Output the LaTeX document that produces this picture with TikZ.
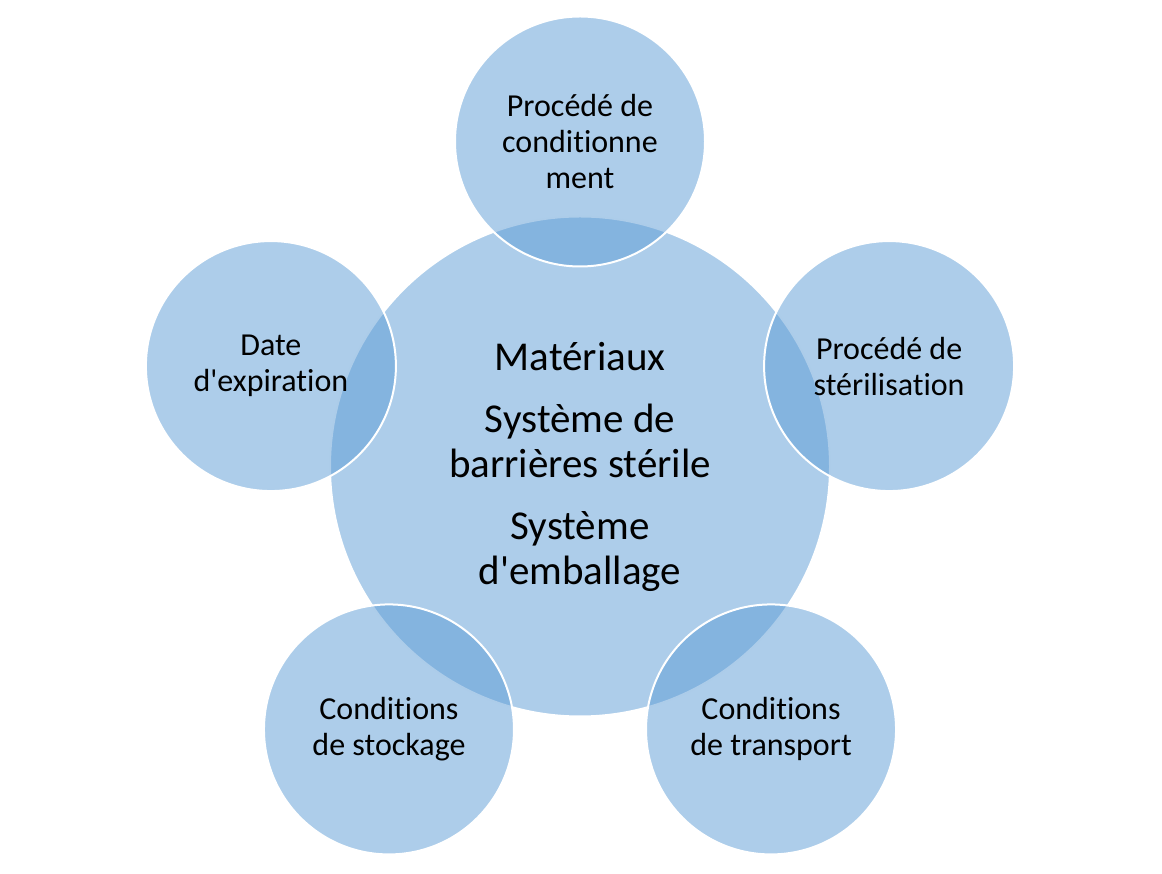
\documentclass[tikz,border=0pt]{standalone}
\usepackage{fontspec}
\setmainfont{Carlito}[Ligatures={NoCommon,TeXOff}]
\usetikzlibrary{positioning,calc}
\definecolor{bubble}{HTML}{5B9BD5}
\tikzset{
  hubnode/.style = {circle, draw=white, line width=2pt, fill=bubble, fill opacity=0.5,
                    text opacity=1, minimum size=500pt, inner sep=0pt, align=center,
                    font=\fontsize{41}{45}\selectfont},
  satnode/.style = {circle, draw=white, line width=2pt, fill=bubble, fill opacity=0.5,
                    text opacity=1, minimum size=250pt, inner sep=0pt, align=center,
                    font=\fontsize{32}{36}\selectfont}
}

\begin{document}
\begin{tikzpicture}[x=1pt, y=1pt]
  \useasboundingbox (0,0) rectangle (1162,873);

  %  --  Central circle
  \node[hubnode] (hub) at (580,406.5) {Matériaux\\[17pt]Système de\\barrières stérile\\[17pt]Système\\d'emballage};

  %  --  Five satellites around the hub
  \foreach \ang/\nm/\txt in {90/cond/{Procédé de\\conditionne\\ment},
                             18/steri/{Procédé de\\stérilisation},
                             162/expi/{Date\\d'expiration},
                             234/stock/{Conditions\\de stockage},
                             306/trans/{Conditions\\de transport}}{
    \node[satnode] (\nm) at ($ (hub) + (\ang:325) $) {\txt};
  }
\end{tikzpicture}
\end{document}
